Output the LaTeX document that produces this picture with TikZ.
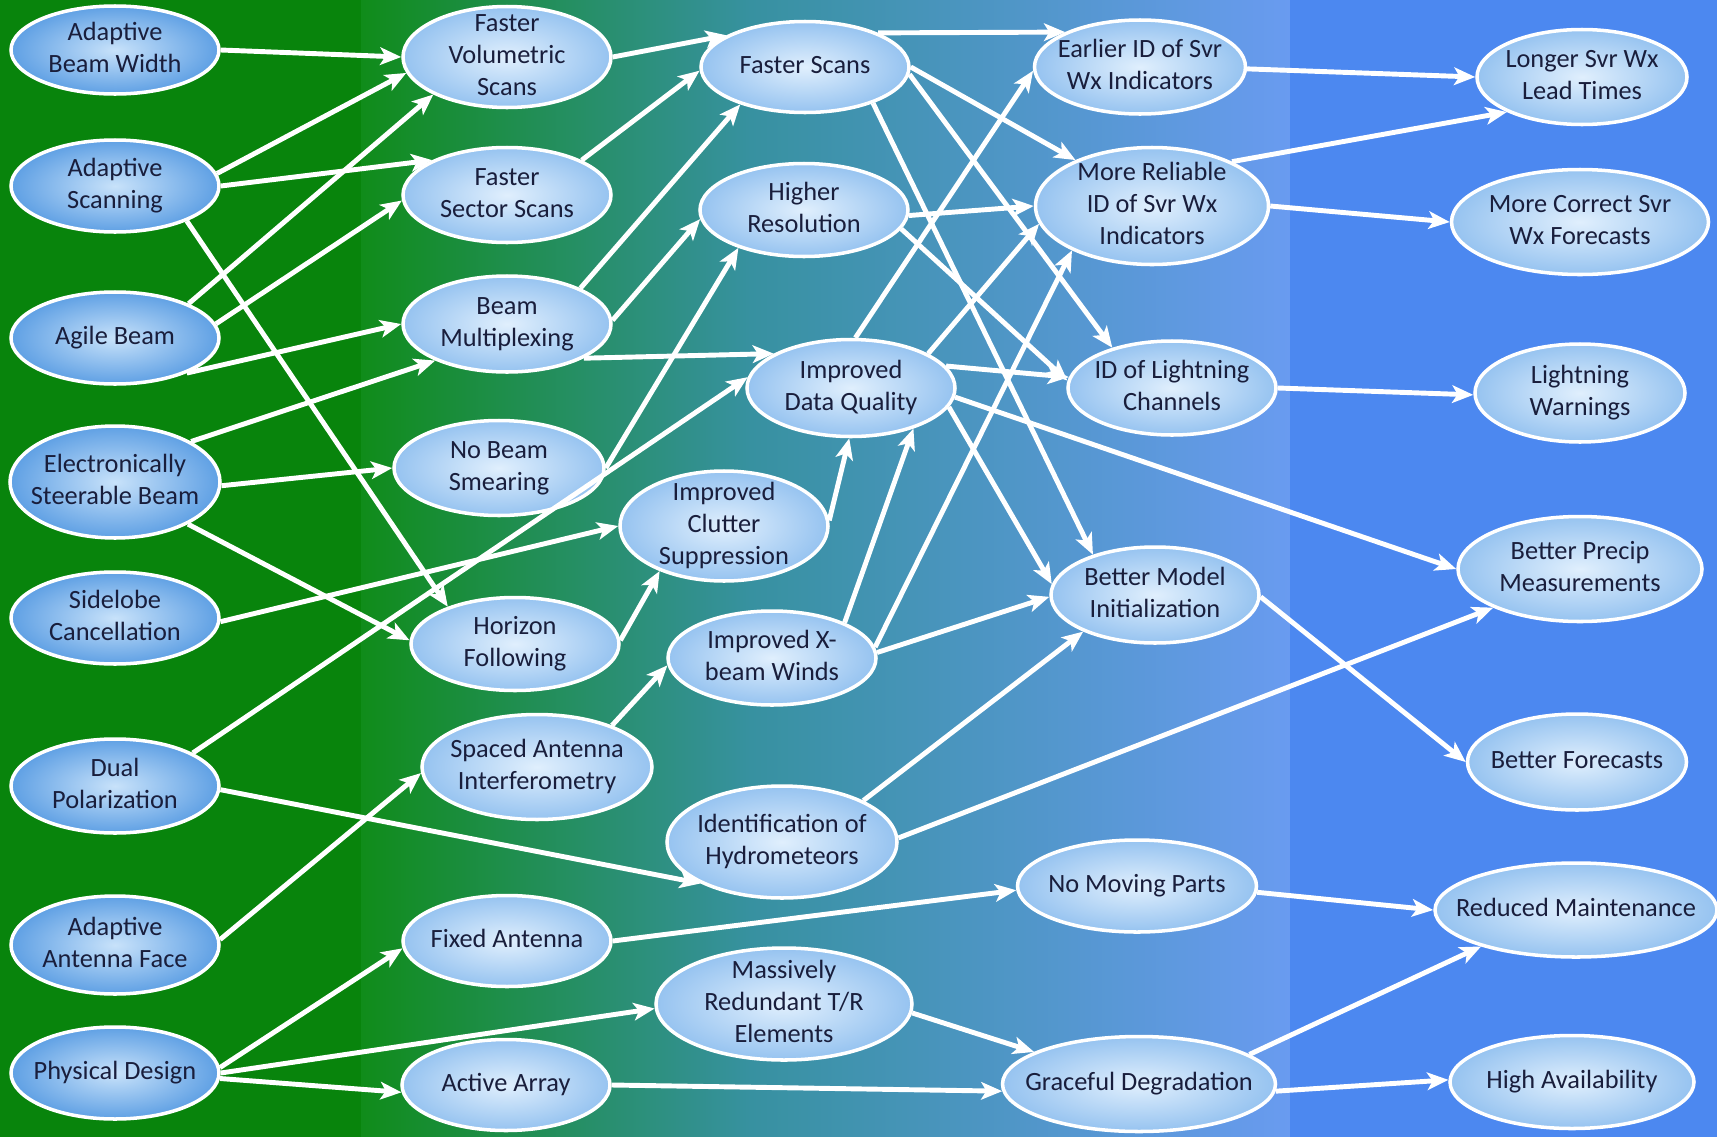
\documentclass[tikz,border=0pt]{standalone}
\usepackage{fontspec}
\setmainfont{Carlito}
\usetikzlibrary{
    shapes.geometric,
    arrows.meta
    }

\definecolor{bggreen}{RGB}{8,132,12}
\definecolor{bgmidgreen}{RGB}{16,140,26}
\definecolor{bgteal}{RGB}{55,145,160}
\definecolor{bglight}{RGB}{105,155,240}
\definecolor{bgblue}{RGB}{76,136,240}
\definecolor{causein}{RGB}{200,226,250}
\definecolor{causeout}{RGB}{95,160,228}
\definecolor{effectin}{RGB}{224,239,253}
\definecolor{effectout}{RGB}{150,195,240}
\definecolor{navytext}{RGB}{25,30,60}

% text of an oval, centred and of no size, so the oval keeps its own size
\newcommand{\ovaltext}[1]{\makebox[0pt]{\raisebox{\dimexpr(\depth-\height)/2\relax}[0pt][0pt]{\begin{tabular}{@{}c@{}}#1\end{tabular}}}}

\begin{document}
\begin{tikzpicture}
\tikzset{cause/.style =
        {
            shape=ellipse,
            draw=white,
            line width=1pt,
            inner color=causein,
            outer color=causeout,
            text=navytext,
            font=\fontsize{7.5}{9.1}\selectfont,
            inner sep=0pt,
            minimum width=2.08cm,
            minimum height=0.92cm
        }
}

\tikzset{effect/.style =
        {
            cause,
            inner color=effectin,
            outer color=effectout
        }
}

\tikzset{flow/.style = {
            line width=1.4pt,
            white,
            -{Stealth[length=6pt,width=5pt,inset=1.5pt]}
        }
}

		\useasboundingbox (0,0) rectangle (17.17,-11.37);
		\fill[bggreen] (0,0) rectangle (3.61,-11.37);
		\shade[left color=bgmidgreen, right color=bgteal] (3.61,0) rectangle (7.5,-11.37);
		\shade[left color=bgteal, right color=bglight] (7.5,0) rectangle (12.9,-11.37);
		\fill[bgblue] (12.9,0) rectangle (17.17,-11.37);

		% first column
		\node[cause, minimum height=0.88cm] (abw) at (1.15,-0.50) {\ovaltext{Adaptive\\Beam Width}};
		\node[cause] (adscan) at (1.15,-1.86) {\ovaltext{Adaptive\\Scanning}};
		\node[cause] (agile) at (1.15,-3.38) {\ovaltext{Agile Beam}};
		\node[cause, minimum width=2.10cm, minimum height=1.12cm] (esb) at (1.15,-4.82) {\ovaltext{Electronically\\Steerable Beam}};
		\node[cause] (sidelobe) at (1.15,-6.18) {\ovaltext{Sidelobe\\Cancellation}};
		\node[cause, minimum height=0.94cm] (dualpol) at (1.15,-7.86) {\ovaltext{Dual\\Polarization}};
		\node[cause, minimum height=0.98cm] (adface) at (1.15,-9.45) {\ovaltext{Adaptive\\Antenna Face}};
		\node[cause] (physdes) at (1.15,-10.73) {\ovaltext{Physical Design}};

		% second column
		\node[effect, minimum height=1.01cm] (fvscan) at (5.07,-0.57) {\ovaltext{Faster\\Volumetric\\Scans}};
		\node[effect, minimum height=0.95cm] (fsscan) at (5.07,-1.95) {\ovaltext{Faster\\Sector Scans}};
		\node[effect, minimum height=0.96cm] (beammux) at (5.07,-3.24) {\ovaltext{Beam\\Multiplexing}};
		\node[effect, minimum width=2.10cm, minimum height=0.95cm] (nosmear) at (4.99,-4.68) {\ovaltext{No Beam\\Smearing}};
		\node[effect, minimum height=0.93cm] (horizon) at (5.15,-6.44) {\ovaltext{Horizon\\Following}};
		\node[effect, minimum width=2.30cm, minimum height=1.05cm] (spaced) at (5.37,-7.67) {\ovaltext{Spaced Antenna\\Interferometry}};
		\node[effect, minimum height=0.91cm] (fixant) at (5.07,-9.41) {\ovaltext{Fixed Antenna}};
		\node[effect, minimum height=0.91cm] (active) at (5.06,-10.85) {\ovaltext{Active Array}};

		% third column
		\node[effect, minimum height=0.91cm] (fastscan) at (8.05,-0.67) {\ovaltext{Faster Scans}};
		\node[effect, minimum height=0.93cm] (hires) at (8.04,-2.10) {\ovaltext{Higher\\Resolution}};
		\node[effect, minimum height=0.97cm] (dataq) at (8.51,-3.88) {\ovaltext{Improved\\Data Quality}};
		\node[effect, minimum height=1.10cm] (clutter) at (7.24,-5.26) {\ovaltext{Improved\\Clutter\\Suppression}};
		\node[effect, minimum height=0.94cm] (xwinds) at (7.72,-6.58) {\ovaltext{Improved X-\\beam Winds}};
		\node[effect, minimum width=2.30cm, minimum height=1.12cm] (hydro) at (7.82,-8.42) {\ovaltext{Identification of\\Hydrometeors}};
		\node[effect, minimum width=2.56cm, minimum height=1.12cm] (redund) at (7.84,-10.04) {\ovaltext{Massively\\Redundant T/R\\Elements}};

		% fourth column
		\node[effect, minimum width=2.11cm, minimum height=0.94cm] (earlyid) at (11.40,-0.67) {\ovaltext{Earlier ID of Svr\\Wx Indicators}};
		\node[effect, minimum width=2.33cm, minimum height=1.17cm] (reliable) at (11.52,-2.06) {\ovaltext{More Reliable\\ID of Svr Wx\\Indicators}};
		\node[effect, minimum height=0.94cm] (lightid) at (11.72,-3.88) {\ovaltext{ID of Lightning\\Channels}};
		\node[effect, minimum height=0.96cm] (model) at (11.55,-5.95) {\ovaltext{Better Model\\Initialization}};
		\node[effect, minimum width=2.39cm] (nomove) at (11.37,-8.86) {\ovaltext{No Moving Parts}};
		\node[effect, minimum width=2.73cm, minimum height=0.95cm] (graceful) at (11.39,-10.84) {\ovaltext{Graceful Degradation}};

		% fifth column
		\node[effect, minimum width=2.10cm, minimum height=0.95cm] (leadtime) at (15.82,-0.77) {\ovaltext{Longer Svr Wx\\Lead Times}};
		\node[effect, minimum width=2.57cm, minimum height=1.05cm] (correct) at (15.80,-2.22) {\ovaltext{More Correct Svr\\Wx Forecasts}};
		\node[effect, minimum width=2.10cm, minimum height=0.98cm] (lightwarn) at (15.80,-3.93) {\ovaltext{Lightning\\Warnings}};
		\node[effect, minimum width=2.44cm, minimum height=1.05cm] (precip) at (15.80,-5.69) {\ovaltext{Better Precip\\Measurements}};
		\node[effect, minimum width=2.19cm, minimum height=0.96cm] (forecast) at (15.77,-7.62) {\ovaltext{Better Forecasts}};
		\node[effect, minimum width=2.82cm, minimum height=0.94cm] (maint) at (15.76,-9.10) {\ovaltext{Reduced Maintenance}};
		\node[effect, minimum width=2.44cm, minimum height=0.93cm] (avail) at (15.72,-10.82) {\ovaltext{High Availability}};

		\foreach \from / \to in
			{abw.0/fvscan.180, adscan.7/fvscan.189, adscan.0/fsscan.155,
				adscan.334/horizon.151, agile.25/fvscan.207, agile.8/fsscan.183,
				agile.334/beammux.180, esb.28/beammux.207, esb.358/nosmear.180,
				esb.330/horizon.178, sidelobe.358/clutter.180, dualpol.23/dataq.174,
				dualpol.358/hydro.207, adface.3/spaced.183, physdes.3/fixant.184,
				physdes.0/redund.182, physdes.357/active.184,
				fvscan.0/fastscan.158, fsscan.25/fastscan.182, beammux.26/fastscan.210,
				beammux.2/hires.185, beammux.336/dataq.156, nosmear.0/hires.210,
				horizon.2/clutter.215, spaced.29/xwinds.184, fixant.0/nomove.182,
				active.0/graceful.183, clutter.3/dataq.268,
				fastscan.25/earlyid.155, fastscan.0/reliable.149, fastscan.356/lightid.146,
				fastscan.332/model.147, hires.357/reliable.180, hires.349/lightid.176,
				dataq.85/earlyid.182, dataq.24/reliable.189, dataq.13/lightid.174,
				dataq.349/model.174, dataq.355/precip.180, xwinds.26/dataq.327,
				xwinds.6/reliable.209, xwinds.3/model.181, hydro.27/model.207,
				hydro.2/precip.204, redund.356/graceful.163,
				earlyid.359/leadtime.180, reliable.29/leadtime.205, reliable.0/correct.180,
				lightid.0/lightwarn.181, model.359/forecast.180, nomove.357/maint.180,
				graceful.15/maint.201, graceful.357/avail.179}
		\draw[flow] (\from) -- (\to);

	\end{tikzpicture}
\end{document}
